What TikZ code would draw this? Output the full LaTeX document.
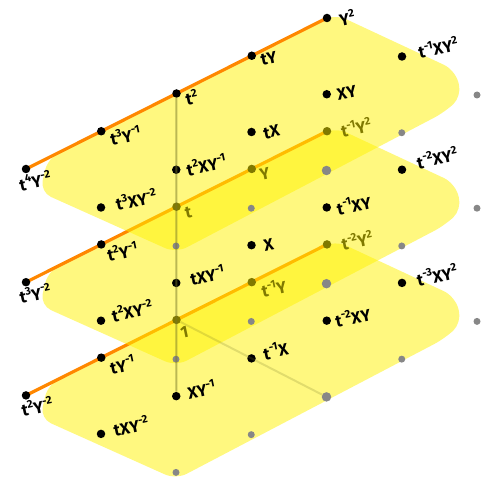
\documentclass[tikz,border=0pt]{standalone}
\usepackage{fontspec}
\setmainfont{Fira Sans}
\newcommand\supx[1]{\raisebox{0.45em}{\fontsize{11}{11}\selectfont #1}}
\definecolor{orng}{RGB}{255,135,0}
\definecolor{dotgray}{RGB}{135,135,135}
\definecolor{axgray}{RGB}{120,120,40}
\tikzset{
 yfill/.style={fill=yellow, fill opacity=0.5, rounded corners=12pt},
 bdot/.style={circle, fill=black, inner sep=0pt, minimum size=8.5pt},
 gdot/.style={circle, fill=dotgray, inner sep=0pt, minimum size=7pt},
 gbig/.style={gdot, minimum size=9.5pt},
 oline/.style={draw=orng, line width=3.2pt},
 lab/.style={font=\fontsize{16.5}{16.5}\selectfont\bfseries, rotate=12, inner sep=0pt},
 axisline/.style={draw=axgray, draw opacity=0.5, line width=2pt},
 faintline/.style={draw=axgray, draw opacity=0.22, line width=2pt},
}
\newcommand\layerbase[1]{%
  \fill[yfill, shift={(0,113.2*#1)}] (48,158) -- (335,14) -- (455,70) -- (462,96) -- (445,112) -- (176,253) -- (40,192) -- cycle;
  \foreach \r in {0,1,2}{
    \foreach \c in {0,...,4}{
      \coordinate (p#1\r\c) at ({26+75.25*\c+75*\r},{169-37.75*\c+38.5*\r+113.2*#1});
    }
  }
  \draw[oline] (p#100) -- (p#104);
  \foreach \c in {0,...,4}{
    \node[bdot] (d#10\c) at (p#10\c) {};
    \node[bdot] (d#11\c) at (p#11\c) {};
  }
  \foreach \c in {0,1,3,4}{
    \node[gdot] (d#12\c) at (p#12\c) {};
  }
  \node[gbig] (d#122) at (p#122) {};
}
\begin{document}
\begin{tikzpicture}[x=1pt,y=-1pt]
\useasboundingbox (0,0) rectangle (491,487);
% bottom layer
\layerbase{2}
\node[lab] (l200) at ([shift={(11,11)}]p200) {t\supx{2}Y\supx{-2}};
\node[lab] (l201) at ([shift={(21,7)}]p201) {tY\supx{-1}};
\node[lab] (l202) at ([shift={(8,12)}]p202) {1};
\node[lab] (l203) at ([shift={(22,6)}]p203) {t\supx{-1}Y};
\node[lab] (l204) at ([shift={(30,-4)}]p204) {t\supx{-2}Y\supx{2}};
\node[lab] (l210) at ([shift={(30,-8)}]p210) {tXY\supx{-2}};
\node[lab] (l211) at ([shift={(25,-7)}]p211) {XY\supx{-1}};
\node[lab] (l212) at ([shift={(24,-8)}]p212) {t\supx{-1}X};
\node[lab] (l213) at ([shift={(26,-4)}]p213) {t\supx{-2}XY};
\node[lab] (l214) at ([shift={(35,-8)}]p214) {t\supx{-3}XY\supx{2}};
% middle layer
\layerbase{1}
\node[lab] (l100) at ([shift={(9,11)}]p100) {t\supx{3}Y\supx{-2}};
\node[lab] (l101) at ([shift={(21,7)}]p101) {t\supx{2}Y\supx{-1}};
\node[lab] (l102) at ([shift={(12,6)}]p102) {t};
\node[lab] (l103) at ([shift={(13,5)}]p103) {Y};
\node[lab] (l104) at ([shift={(29,-4)}]p104) {t\supx{-1}Y\supx{2}};
\node[lab] (l110) at ([shift={(31,-10)}]p110) {t\supx{2}XY\supx{-2}};
\node[lab] (l111) at ([shift={(31,-8)}]p111) {tXY\supx{-1}};
\node[lab] (l112) at ([shift={(17,0)}]p112) {X};
\node[lab] (l113) at ([shift={(27,-3)}]p113) {t\supx{-1}XY};
\node[lab] (l114) at ([shift={(35,-12)}]p114) {t\supx{-2}XY\supx{2}};
% top layer
\layerbase{0}
\node[lab] (l000) at ([shift={(9,12)}]p000) {t\supx{4}Y\supx{-2}};
\node[lab] (l001) at ([shift={(24,4)}]p001) {t\supx{3}Y\supx{-1}};
\node[lab] (l002) at ([shift={(15,4)}]p002) {t\supx{2}};
\node[lab] (l003) at ([shift={(17,3)}]p003) {tY};
\node[lab] (l004) at ([shift={(20,0)}]p004) {Y\supx{2}};
\node[lab] (l010) at ([shift={(35,-8)}]p010) {t\supx{3}XY\supx{-2}};
\node[lab] (l011) at ([shift={(30,-5)}]p011) {t\supx{2}XY\supx{-1}};
\node[lab] (l012) at ([shift={(20,0)}]p012) {tX};
\node[lab] (l013) at ([shift={(20,-1)}]p013) {XY};
\node[lab] (l014) at ([shift={(36,-9)}]p014) {t\supx{-1}XY\supx{2}};
% axes
\draw[axisline] (d002) -- (d211);
\draw[faintline] (d202) -- (d222);
\end{tikzpicture}
\end{document}
